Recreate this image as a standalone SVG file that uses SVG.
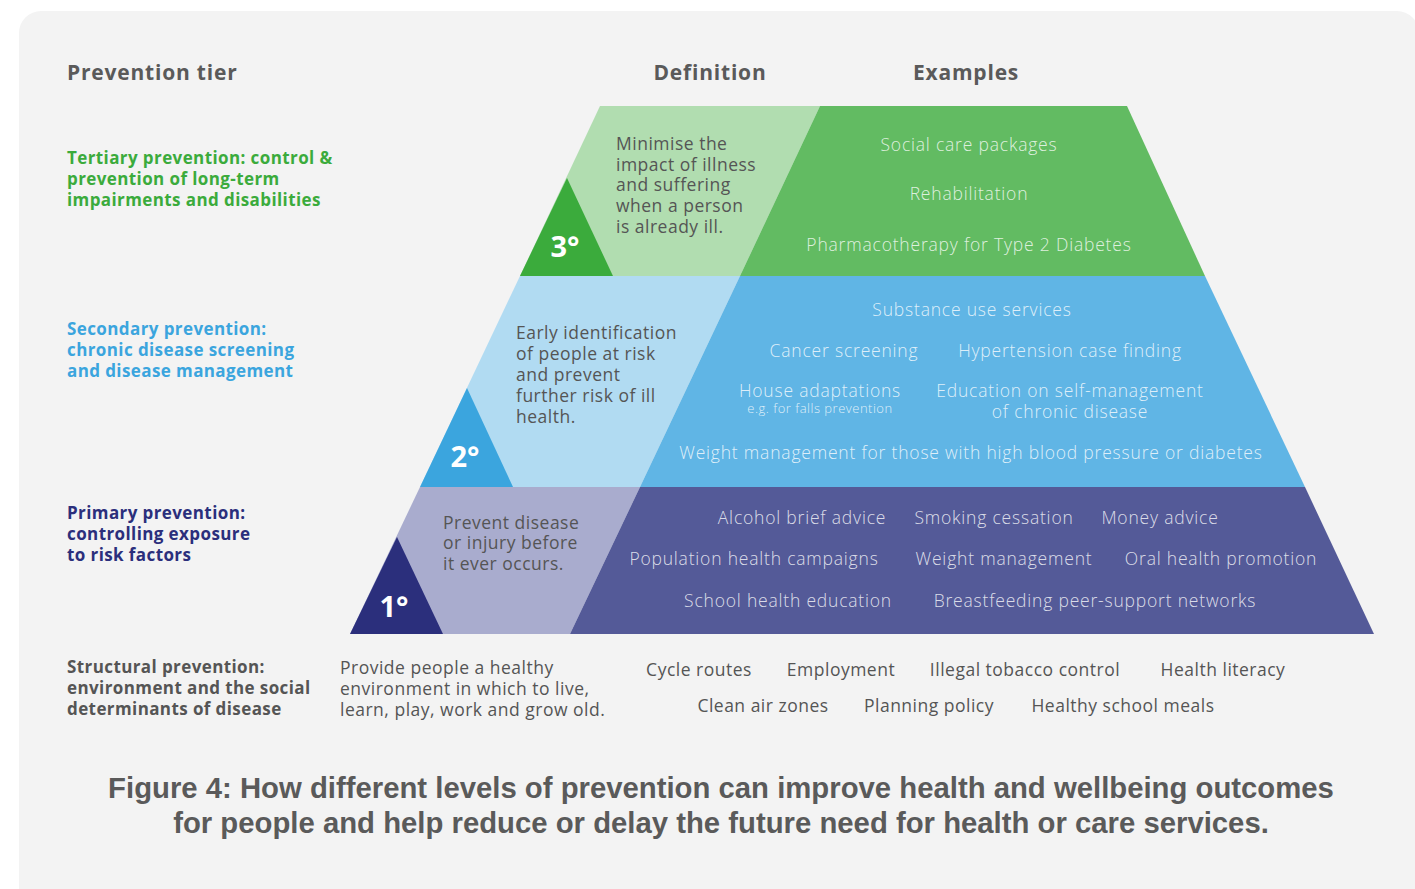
<svg xmlns="http://www.w3.org/2000/svg" width="1415" height="889" viewBox="0 0 1415 889">
<style>
.hd{font-family:"Open Sans","Liberation Sans",sans-serif;font-weight:700;font-size:21px;letter-spacing:0.8px;fill:#5a5a5a}
.lab{font-family:"Open Sans","Liberation Sans",sans-serif;font-weight:700;font-size:17px;letter-spacing:0.4px}
.def{font-family:"Open Sans","Liberation Sans",sans-serif;font-weight:400;font-size:17.5px;letter-spacing:0.5px;fill:#555555}
.ex{font-family:"Open Sans","Liberation Sans",sans-serif;font-weight:300;font-size:17.5px;letter-spacing:0.8px;fill:#ffffff;fill-opacity:0.8;text-anchor:middle}
.exs{font-family:"Open Sans","Liberation Sans",sans-serif;font-weight:300;font-size:13px;letter-spacing:0.5px;fill:#ffffff;fill-opacity:0.8;text-anchor:middle}
.sx{font-family:"Open Sans","Liberation Sans",sans-serif;font-weight:400;font-size:17.5px;letter-spacing:0.5px;fill:#555555;text-anchor:middle}
.num{font-family:"Open Sans","Liberation Sans",sans-serif;font-weight:700;font-size:29px;fill:#ffffff;text-anchor:middle}
.cap{font-family:"Liberation Sans",Arial,sans-serif;font-weight:700;font-size:29.3px;fill:#5a5a5a;text-anchor:middle}
</style>
<rect x="0" y="0" width="1415" height="889" fill="#ffffff"/>
<rect x="19" y="11" width="1400" height="900" rx="22" fill="#f3f3f3"/>

<g id="headers">
<text class="hd" x="67" y="80">Prevention tier</text>
<text class="hd" x="710" y="80" text-anchor="middle">Definition</text>
<text class="hd" x="966" y="80" text-anchor="middle">Examples</text>
</g>

<g id="tertiary">
<polygon points="600,106 820,106 740,276 520,276" fill="#b1ddb0"/>
<polygon points="820,106 1127,106 1205,276 740,276" fill="#62bb62"/>
<polygon points="567,178 613,276 520,276" fill="#3bab3c"/>
<text class="num" x="565" y="257">3°</text>
<text class="lab" fill="#3bab3c"><tspan x="67" y="164">Tertiary prevention: control &amp;</tspan><tspan x="67" y="185">prevention of long-term</tspan><tspan x="67" y="206">impairments and disabilities</tspan></text>
<text class="def"><tspan x="616" y="150">Minimise the</tspan><tspan x="616" y="171">impact of illness</tspan><tspan x="616" y="191">and suffering</tspan><tspan x="616" y="212">when a person</tspan><tspan x="616" y="233">is already ill.</tspan></text>
<text class="ex" x="969" y="151">Social care packages</text>
<text class="ex" x="969" y="200">Rehabilitation</text>
<text class="ex" x="969" y="251">Pharmacotherapy for Type 2 Diabetes</text>
</g>

<g id="secondary">
<polygon points="520,276 740,276 640,487 420,487" fill="#b1dbf2"/>
<polygon points="740,276 1205,276 1305,487 640,487" fill="#60b5e5"/>
<polygon points="467,388 513,487 420,487" fill="#3ba5de"/>
<text class="num" x="465" y="467">2°</text>
<text class="lab" fill="#3ba5de"><tspan x="67" y="335">Secondary prevention:</tspan><tspan x="67" y="356">chronic disease screening</tspan><tspan x="67" y="377">and disease management</tspan></text>
<text class="def"><tspan x="516" y="339">Early identification</tspan><tspan x="516" y="360">of people at risk</tspan><tspan x="516" y="381">and prevent</tspan><tspan x="516" y="402">further risk of ill</tspan><tspan x="516" y="423">health.</tspan></text>
<text class="ex" x="972" y="316">Substance use services</text>
<text class="ex" x="844" y="357">Cancer screening</text>
<text class="ex" x="1070" y="357">Hypertension case finding</text>
<text class="ex" x="820" y="397">House adaptations</text>
<text class="exs" x="820" y="413">e.g. for falls prevention</text>
<text class="ex" x="1070" y="397">Education on self-management</text>
<text class="ex" x="1070" y="418">of chronic disease</text>
<text class="ex" x="971" y="459">Weight management for those with high blood pressure or diabetes</text>
</g>

<g id="primary">
<polygon points="420,487 640,487 570,634 350,634" fill="#a9acce"/>
<polygon points="640,487 1305,487 1374,634 570,634" fill="#545a98"/>
<polygon points="397,537 443,634 350,634" fill="#2b2f7c"/>
<text class="num" x="394" y="617">1°</text>
<text class="lab" fill="#2b2f7c"><tspan x="67" y="519">Primary prevention:</tspan><tspan x="67" y="540">controlling exposure</tspan><tspan x="67" y="561">to risk factors</tspan></text>
<text class="def"><tspan x="443" y="529">Prevent disease</tspan><tspan x="443" y="549">or injury before</tspan><tspan x="443" y="570">it ever occurs.</tspan></text>
<text class="ex" x="802" y="524">Alcohol brief advice</text>
<text class="ex" x="994" y="524">Smoking cessation</text>
<text class="ex" x="1160" y="524">Money advice</text>
<text class="ex" x="754" y="565">Population health campaigns</text>
<text class="ex" x="1004" y="565">Weight  management</text>
<text class="ex" x="1221" y="565">Oral health promotion</text>
<text class="ex" x="788" y="607">School health education</text>
<text class="ex" x="1095" y="607">Breastfeeding peer-support networks</text>
</g>

<g id="structural">
<text class="lab" fill="#555555"><tspan x="67" y="673">Structural prevention:</tspan><tspan x="67" y="694">environment and the social</tspan><tspan x="67" y="715">determinants of disease</tspan></text>
<text class="def"><tspan x="340" y="674">Provide people a healthy</tspan><tspan x="340" y="695">environment in which to live,</tspan><tspan x="340" y="716">learn, play, work and grow old.</tspan></text>
<text class="sx" x="699" y="676">Cycle routes</text>
<text class="sx" x="841" y="676">Employment</text>
<text class="sx" x="1025" y="676">Illegal tobacco control</text>
<text class="sx" x="1223" y="676">Health literacy</text>
<text class="sx" x="763" y="712">Clean air zones</text>
<text class="sx" x="929" y="712">Planning policy</text>
<text class="sx" x="1123" y="712">Healthy school meals</text>
</g>

<g id="connectors"></g>

<g id="caption">
<text class="cap" x="721" y="798">Figure 4: How different levels of prevention can improve health and wellbeing outcomes</text>
<text class="cap" x="721" y="833">for people and help reduce or delay the future need for health or care services.</text>
</g>
</svg>
